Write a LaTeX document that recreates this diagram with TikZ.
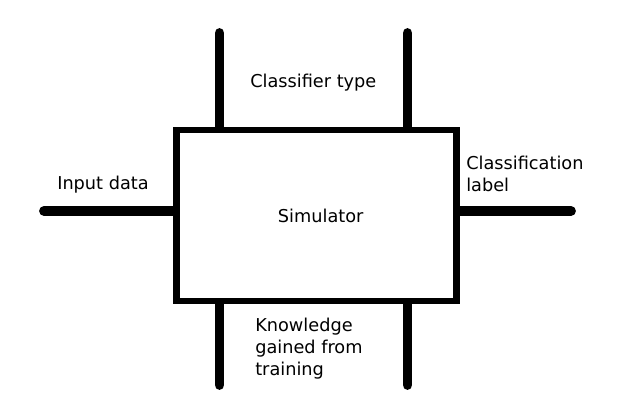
\documentclass[tikz,border=0pt]{standalone}
\usepackage{fontspec}
\setmainfont{DejaVu Sans}
\usetikzlibrary{positioning}

\begin{document}
\begin{tikzpicture}[x=0.025cm, y=-0.025cm,
    simbox/.style={draw, line width=4.8pt, minimum width=7cm, minimum height=4.28cm, inner sep=0pt},
    wire/.style={line width=7pt, line cap=round},
    lbl/.style={anchor=base west, inner sep=0pt, align=left, font=\fontsize{12.6}{15.7}\selectfont}
  ]
    \useasboundingbox (0,0) rectangle (640,400);
    % simulator block
    \node[simbox, font=\fontsize{12.6}{15.7}\selectfont] (sim) at (316.5,215.5) {\hspace{6pt}Simulator};

    % free ends of the wires
    \coordinate (inEnd) at (44,211);
    \coordinate (outEnd) at (571,211);
    \coordinate (typeA) at (219.5,33);
    \coordinate (typeB) at (407.5,33);
    \coordinate (knowA) at (219.5,385);
    \coordinate (knowB) at (407.5,385);

    \draw[wire] (inEnd) -- (sim.west |- inEnd);
    \draw[wire] (sim.east |- outEnd) -- (outEnd);
    \draw[wire] (typeA) -- (sim.north -| typeA);
    \draw[wire] (typeB) -- (sim.north -| typeB);
    \draw[wire] (sim.south -| knowA) -- (knowA);
    \draw[wire] (sim.south -| knowB) -- (knowB);

    % labels (base = last line)
    \node[lbl] (inLbl) at (57,190) {Input data};
    \node[lbl] (typeLbl) at (250,88) {Classifier type};
    \node[lbl] (outLbl) at (466,192) {Classification\\label};
    \node[lbl] (knowLbl) at (255,376) {Knowledge\\gained from\\training};
\end{tikzpicture}
\end{document}
